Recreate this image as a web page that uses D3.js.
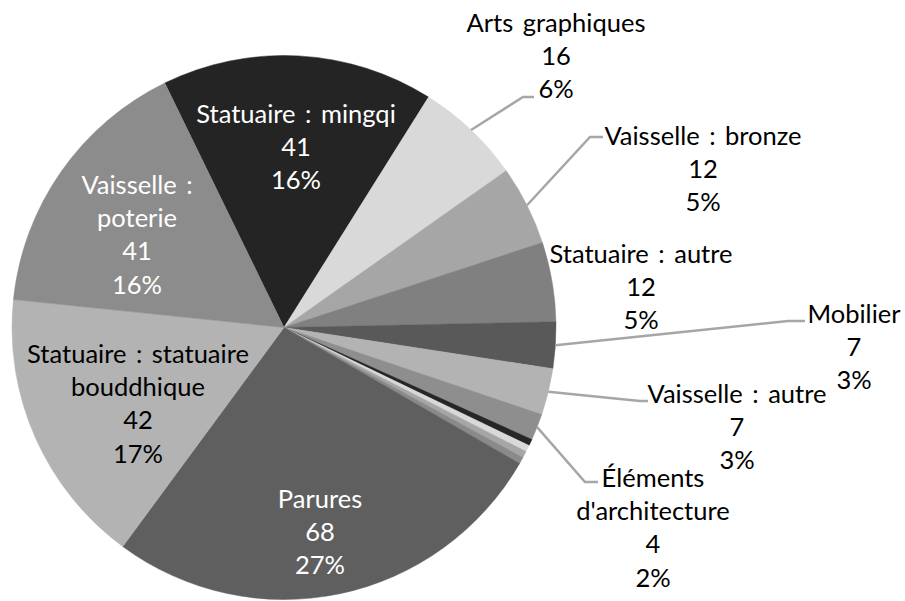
<!DOCTYPE html>
<html>
<head>
<meta charset="utf-8">
<script src="https://cdn.jsdelivr.net/npm/d3@7/dist/d3.min.js"></script>
<style>
  html, body { margin: 0; padding: 0; background: #fff; }
  svg { display: block; }
  text { font-family: Lato, "Noto Sans", sans-serif; }
</style>
</head>
<body>
<svg id="chart" width="905" height="601"></svg>
<script>
// ---- data ----
const categories = [
  "Statuaire : mingqi", "Arts graphiques", "Vaisselle : bronze", "Statuaire : autre",
  "Mobilier", "Vaisselle : autre", "Éléments d'architecture",
  "Autre 1", "Autre 2", "Autre 3", "Autre 4",
  "Parures", "Statuaire : statuaire bouddhique", "Vaisselle : poterie"
];
const values = [41, 16, 12, 12, 7, 7, 4, 1, 1, 1, 1, 68, 42, 41];
const colors = [
  "#242424", "#d9d9d9", "#a6a6a6", "#808080",
  "#595959", "#b3b3b3", "#8e8e8e",
  "#262626", "#d9d9d9", "#a6a6a6", "#8a8a8a",
  "#5f5f5f", "#b3b3b3", "#8c8c8c"
];

// ---- layout (label placement) ----
const labelLayout = {
  "Statuaire : mingqi": { x: 296, y: 123, lines: ["Statuaire : mingqi"], fill: "#fff" },
  "Arts graphiques": { x: 556, y: 32, lines: ["Arts graphiques"], fill: "#000", elbow: [523, 97], end: [534, 97] },
  "Vaisselle : bronze": { x: 703, y: 145, lines: ["Vaisselle : bronze"], fill: "#000", elbow: [590, 137], end: [603, 137] },
  "Statuaire : autre": { x: 641, y: 263, lines: ["Statuaire : autre"], fill: "#000" },
  "Mobilier": { x: 854, y: 323, lines: ["Mobilier"], fill: "#000", elbow: [788, 321], end: [805, 321] },
  "Vaisselle : autre": { x: 737, y: 403, lines: ["Vaisselle : autre"], fill: "#000", elbow: [640, 401], end: [648, 401] },
  "Éléments d'architecture": { x: 653, y: 487, lines: ["Éléments", "d'architecture"], fill: "#000", elbow: [585, 482], end: [598, 482] },
  "Parures": { x: 320, y: 508, lines: ["Parures"], fill: "#fff" },
  "Statuaire : statuaire bouddhique": { x: 138, y: 363, lines: ["Statuaire : statuaire", "bouddhique"], fill: "#000" },
  "Vaisselle : poterie": { x: 137, y: 194, lines: ["Vaisselle :", "poterie"], fill: "#fff" }
};

const W = 905, H = 601;
const cx = 284, cy = 327.5, R = 272;
const lineH = 33.2;
const startDeg = -26;

const svg = d3.select("#chart");
const total = d3.sum(values);
const data = categories.map((c, i) => ({ cat: c, value: values[i], color: colors[i] }));

const pie = d3.pie().sort(null).value(d => d.value)
  .startAngle(startDeg * Math.PI / 180)
  .endAngle(startDeg * Math.PI / 180 + 2 * Math.PI);
const arcs = pie(data);
const arc = d3.arc().innerRadius(0).outerRadius(R);

const g = svg.append("g").attr("transform", `translate(${cx},${cy})`);
g.selectAll("path.slice").data(arcs).join("path")
  .attr("class", "slice")
  .attr("d", arc)
  .attr("fill", d => d.data.color)
  .attr("stroke", d => d.data.color)
  .attr("stroke-width", 0.5);

// leader lines
const leaders = svg.append("g");
arcs.forEach(a => {
  const L = labelLayout[a.data.cat];
  if (!L || !L.elbow) return;
  const mid = (a.startAngle + a.endAngle) / 2;
  const sx = cx + R * Math.sin(mid), sy = cy - R * Math.cos(mid);
  leaders.append("polyline")
    .attr("points", [[sx, sy], L.elbow, L.end].map(p => p.join(",")).join(" "))
    .attr("fill", "none")
    .attr("stroke", "#a6a6a6")
    .attr("stroke-width", 2.5);
});

// labels
const labels = svg.append("g");
arcs.forEach(a => {
  const L = labelLayout[a.data.cat];
  if (!L) return;
  const pct = Math.round(a.data.value / total * 100) + "%";
  const lines = L.lines.concat([String(a.data.value), pct]);
  const t = labels.append("text")
    .attr("text-anchor", "middle")
    .attr("font-size", 25.5)
    .attr("word-spacing", 3)
    .attr("fill", L.fill);
  lines.forEach((ln, i) => {
    t.append("tspan").attr("x", L.x).attr("y", L.y + i * lineH).text(ln);
  });
});
</script>
</body>
</html>
